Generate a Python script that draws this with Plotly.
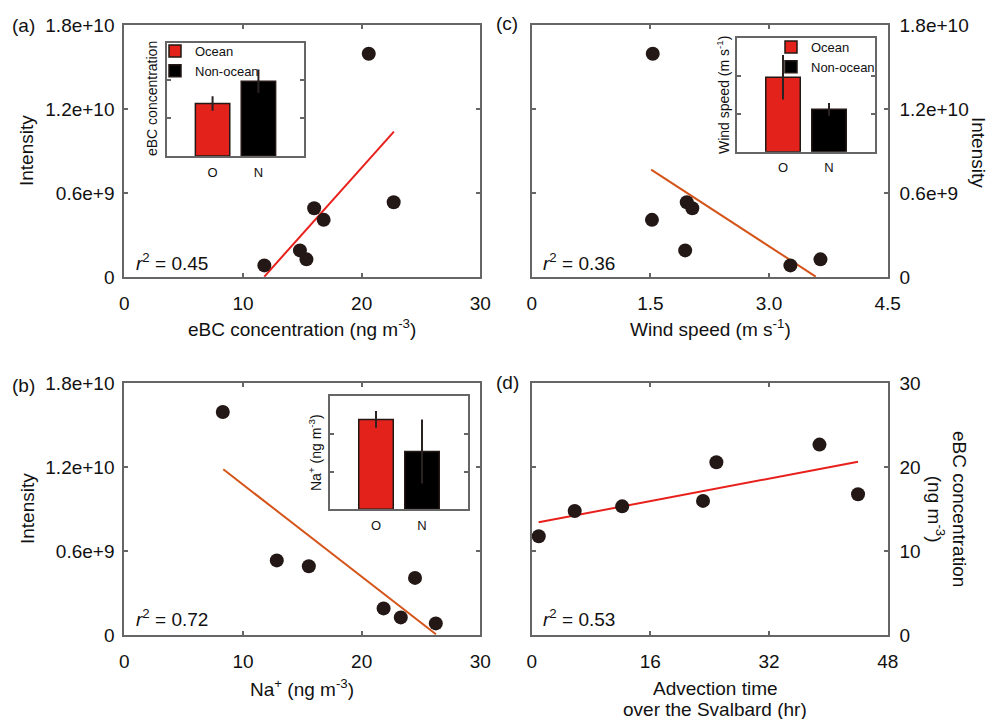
import plotly.graph_objects as go

W, H = 992, 719

# ---------------- data ----------------
ebc = [20.6, 22.7, 16.0, 16.8, 14.8, 15.35, 11.8]
intensity = [15.95e9, 5.35e9, 4.93e9, 4.1e9, 1.92e9, 1.28e9, 0.85e9]
na = [8.3, 12.85, 15.55, 24.5, 21.85, 23.3, 26.25]
wind = [1.53, 1.96, 2.03, 1.52, 1.94, 3.65, 3.27]
adv_time = [24.9, 38.8, 23.1, 44.0, 5.8, 12.2, 0.95]

fit_a_x = [11.8, 22.72]
fit_a_y = [0.05e9, 10.39e9]
fit_b_x = [8.34, 26.26]
fit_b_y = [11.86e9, 0.07e9]
fit_c_x = [1.51, 3.59]
fit_c_y = [7.68e9, 0.05e9]
fit_d_x = [0.94, 44.0]
fit_d_y = [13.45, 20.67]

r2_labels = ["0.45", "0.72", "0.36", "0.53"]

inset_groups = ["O", "N"]
inset_pos = [1, 2]
group_names = ["Ocean", "Non-ocean"]
ebc_bar = [13.9, 19.8]
ebc_err = [1.9, 3.1]
wind_bar = [1.97, 1.12]
wind_err = [0.59, 0.17]
na_bar = [23.8, 15.3]
na_err = [2.2, 8.5]

intensity_ticks = [0, 6e9, 1.2e10, 1.8e10]
intensity_ticktext = ["0", "0.6e+9", "1.2e+10", "1.8e+10"]
ebc_x_ticks = [0, 10, 20, 30]
wind_ticks = [0, 1.5, 3.0, 4.5]
wind_ticktext = ["0", "1.5", "3.0", "4.5"]
adv_ticks = [0, 16, 32, 48]
ebc_y_ticks = [0, 10, 20, 30]

# ---------------- style ----------------
FONT = "Arial, 'Liberation Sans', sans-serif"
DOT = "#231815"
RED = "#e8201c"
ORANGE = "#d4541a"
BAR_RED = "#e3221b"
FRAME = "#666666"


def X(px):
    return px / W


def Y(py):
    return 1 - py / H


fig = go.Figure()

# ---------------- main scatter panels ----------------
panels = [
    ("x", "y", ebc, intensity, fit_a_x, fit_a_y, RED),
    ("x2", "y2", wind, intensity, fit_c_x, fit_c_y, ORANGE),
    ("x3", "y3", na, intensity, fit_b_x, fit_b_y, ORANGE),
    ("x4", "y4", adv_time, ebc, fit_d_x, fit_d_y, RED),
]
for xa, ya, xs, ys, fx, fy, lc in panels:
    fig.add_trace(go.Scatter(x=fx, y=fy, mode="lines", line=dict(color=lc, width=2),
                             xaxis=xa, yaxis=ya, showlegend=False, hoverinfo="skip"))
    fig.add_trace(go.Scatter(x=xs, y=ys, mode="markers",
                             marker=dict(color=DOT, size=14, line=dict(width=0)),
                             xaxis=xa, yaxis=ya, showlegend=False))

# ---------------- inset bars ----------------
bar_colors = [BAR_RED, "#000000"]
insets = [
    ("x5", "y5", ebc_bar, ebc_err, "legend"),
    ("x6", "y6", wind_bar, wind_err, "legend2"),
    ("x7", "y7", na_bar, na_err, None),
]
for xa, ya, vals, errs, leg in insets:
    for i in range(2):
        kw = dict(legend=leg) if leg else {}
        fig.add_trace(go.Bar(
            x=[inset_pos[i]], y=[vals[i]], width=0.75, name=group_names[i],
            marker=dict(color=bar_colors[i], line=dict(color=DOT, width=1.5)),
            error_y=dict(type="data", array=[errs[i]], color="#2a2220", thickness=2, width=0),
            xaxis=xa, yaxis=ya, showlegend=leg is not None, **kw))

# ---------------- axes ----------------
def frame(**kw):
    d = dict(showline=True, linecolor=FRAME, linewidth=2, mirror="ticks",
             ticks="inside", ticklen=4, tickwidth=1.5, tickcolor=FRAME,
             showgrid=False, zeroline=False, fixedrange=True, automargin=False,
             tickfont=dict(family=FONT, size=19, color="#111"))
    d.update(kw)
    return d


top_y = [Y(277.3), Y(25)]
bot_y = [Y(635.3), Y(383.3)]
left_x = [X(124.3), X(480.3)]
right_x = [X(531.7), X(887.7)]

fig.update_layout(
    xaxis=frame(domain=left_x, range=[0, 30], tickvals=ebc_x_ticks, anchor="y", ticklabelstandoff=8),
    yaxis=frame(domain=top_y, range=[0, 1.8e10], tickvals=intensity_ticks,
                ticktext=intensity_ticktext, anchor="x", ticklabelstandoff=4),
    xaxis2=frame(domain=right_x, range=[0, 4.5], tickvals=wind_ticks, ticktext=wind_ticktext,
                 anchor="y2", ticklabelstandoff=8),
    yaxis2=frame(domain=top_y, range=[0, 1.8e10], tickvals=intensity_ticks,
                 ticktext=intensity_ticktext, anchor="x2", side="right", ticklabelstandoff=6),
    xaxis3=frame(domain=left_x, range=[0, 30], tickvals=ebc_x_ticks, anchor="y3", ticklabelstandoff=8),
    yaxis3=frame(domain=bot_y, range=[0, 1.8e10], tickvals=intensity_ticks,
                 ticktext=intensity_ticktext, anchor="x3", ticklabelstandoff=4),
    xaxis4=frame(domain=right_x, range=[0, 48], tickvals=adv_ticks, anchor="y4", ticklabelstandoff=8),
    yaxis4=frame(domain=bot_y, range=[0, 30], tickvals=ebc_y_ticks, anchor="x4", side="right",
                 ticklabelstandoff=6),
)

inset_dom = {
    "5": ([X(166.7), X(304.3)], [Y(156), Y(42.7)], [0, 30], [10, 20]),
    "6": ([X(737), X(875)], [Y(151.7), Y(38.3)], [0, 3], [1, 2]),
    "7": ([X(330), X(468)], [Y(509.3), Y(396)], [0, 30], [10, 20]),
}
for k, (dx, dy, yr, yt) in inset_dom.items():
    fig.layout["xaxis" + k] = frame(domain=dx, range=[0, 3], tickvals=inset_pos, ticktext=inset_groups,
                                    ticks="", anchor="y" + k, ticklabelstandoff=3,
                                    tickfont=dict(family=FONT, size=13, color="#111"))
    fig.layout["yaxis" + k] = frame(domain=dy, range=yr, tickvals=yt, showticklabels=False,
                                    anchor="x" + k)

# ---------------- legends ----------------
leg_common = dict(xanchor="left", yanchor="top", bgcolor="rgba(0,0,0,0)", borderwidth=0,
                  font=dict(family=FONT, size=13, color="#111"), tracegroupgap=0,
                  itemclick=False, itemdoubleclick=False)
fig.update_layout(
    legend=dict(x=X(155), y=Y(36), **leg_common),
    legend2=dict(x=X(771), y=Y(32), **leg_common),
)

# ---------------- text ----------------
ann = []


def text(x, y, s, angle=0, size=19, xanchor="center", yanchor="middle", xref="paper", yref="paper",
         height=None):
    a = dict(x=x, y=y, text=s, showarrow=False, textangle=angle, xref=xref, yref=yref,
             xanchor=xanchor, yanchor=yanchor, font=dict(family=FONT, size=size, color="#111"))
    if height:
        a["height"] = height
    ann.append(a)


# panel labels
text(X(10), Y(25), "(a)", xanchor="left")
text(X(494), Y(23), "(c)", xanchor="left")
text(X(10), Y(385), "(b)", xanchor="left")
text(X(494), Y(382), "(d)", xanchor="left")

# axis titles
text(X(302), Y(328), "eBC concentration (ng m<sup>-3</sup>)")
text(X(27), Y(151), "Intensity", angle=-90)
text(X(710), Y(328), "Wind speed (m s<sup>-1</sup>)")
text(X(978), Y(152), "Intensity", angle=90)
text(X(302), Y(688), "Na<sup>+</sup> (ng m<sup>-3</sup>)")
text(X(27), Y(509), "Intensity", angle=-90)
text(X(715), Y(688), "Advection time", height=20)
text(X(715), Y(708.5), "over the Svalbard (hr)", height=20)
text(X(947), Y(509), "eBC concentration<br>(ng m<sup>-3</sup>)", angle=90)

# inset titles
text(X(152), Y(99), "eBC concentration", angle=-90, size=14)
text(X(723), Y(95), "Wind speed (m s<sup>-1</sup>)", angle=-90, size=14)
text(X(315), Y(453), "Na<sup>+</sup> (ng m<sup>-3</sup>)", angle=-90, size=14)

# r^2 labels
for (xa, ya), r2, yy in zip([("x", "y"), ("x3", "y3"), ("x2", "y2"), ("x4", "y4")], r2_labels,
                            [0.061, 0.067, 0.061, 0.067]):
    text(0.026, yy, "<i>r</i><sup>2</sup> = " + r2, xanchor="left",
         xref=xa + " domain", yref=ya + " domain")

fig.update_layout(
    annotations=ann,
    width=W, height=H, margin=dict(l=0, r=0, t=0, b=0, autoexpand=False),
    paper_bgcolor="white", plot_bgcolor="white",
    barmode="overlay", showlegend=True,
    font=dict(family=FONT, size=19, color="#111"),
)

fig.write_html(
    "out.html",
    config={"displayModeBar": False},
    post_script="document.body.style.margin='0';document.body.style.padding='0';"
                "document.documentElement.style.overflow='hidden';",
)
